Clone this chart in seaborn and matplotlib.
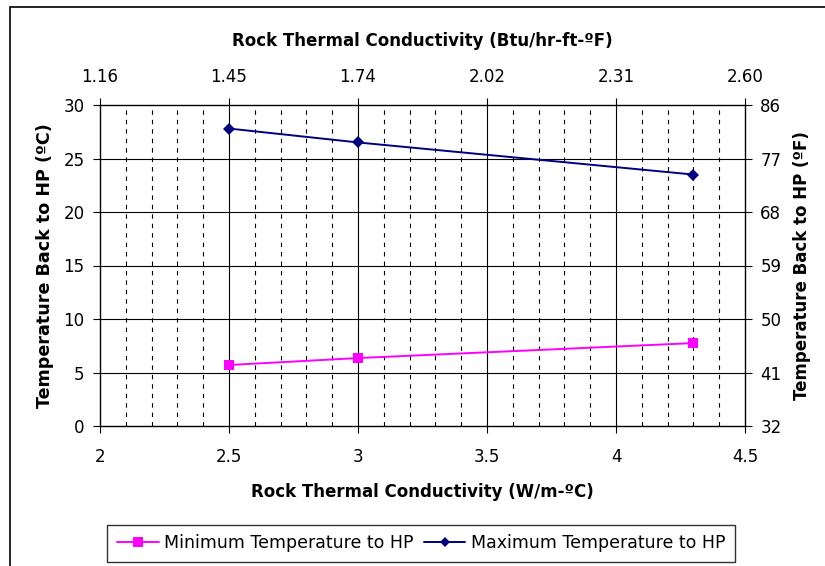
import matplotlib
matplotlib.use("Agg")
import matplotlib.pyplot as plt
from matplotlib.patches import Rectangle
from matplotlib.lines import Line2D
import numpy as np
import pandas as pd
import seaborn as sns

# Rock thermal conductivity (W/m-ºC) and return temperatures (ºC)
conductivity = [2.5, 3.0, 4.3]
min_temp = [5.7, 6.35, 7.75]
max_temp = [27.8, 26.5, 23.5]

# Secondary-unit tick labels
btu_ticks = [2.0, 2.5, 3.0, 3.5, 4.0, 4.5]
btu_labels = ["1.16", "1.45", "1.74", "2.02", "2.31", "2.60"]
wm_labels = ["2", "2.5", "3", "3.5", "4", "4.5"]
degc_ticks = [0, 5, 10, 15, 20, 25, 30]
degf_labels = ["32", "41", "50", "59", "68", "77", "86"]

min_name = "Minimum Temperature to HP"
max_name = "Maximum Temperature to HP"
MAGENTA = "#ff00ff"
NAVY = "#000080"

df = pd.DataFrame({
    "k": conductivity * 2,
    "T": min_temp + max_temp,
    "series": [min_name] * 3 + [max_name] * 3,
})

sns.set_style("white")
plt.rcParams["font.family"] = ["DejaVu Sans"]
plt.rcParams["text.color"] = "black"
plt.rcParams["axes.labelcolor"] = "black"
plt.rcParams["xtick.color"] = "black"
plt.rcParams["ytick.color"] = "black"

TICK_FS = 12
LABEL_FS = 12

fig = plt.figure(figsize=(8.25, 5.66), dpi=100)
ax = fig.add_axes([100 / 825, 1 - 426 / 566, 645 / 825, 321 / 566])

# grid: dashed minor verticals, solid majors
for xm in np.arange(2.1, 4.5, 0.1):
    if abs((xm * 2) - round(xm * 2)) > 1e-6:
        ax.axvline(xm, color="black", lw=0.8, ls=(0, (4, 4.5)), zorder=0.5)
for xm in [2.5, 3.0, 3.5, 4.0]:
    ax.axvline(xm, color="black", lw=0.8, zorder=0.6)
for ym in degc_ticks[1:-1]:
    ax.axhline(ym, color="black", lw=0.8, zorder=0.6)

sns.lineplot(data=df, x="k", y="T", hue="series", style="series",
             palette={min_name: MAGENTA, max_name: NAVY},
             markers={min_name: "s", max_name: "D"},
             dashes=False, markersize=6.5, markeredgewidth=0, lw=1.4,
             ax=ax, legend=False, zorder=3)

ax.set_xlim(2, 4.5)
ax.set_ylim(0, 30)
ax.set_xticks(btu_ticks)
ax.set_xticklabels(wm_labels)
ax.set_yticks(degc_ticks)
ax.tick_params(axis="x", labelsize=TICK_FS, length=5, width=0.8,
               direction="out", bottom=True, pad=11)
ax.tick_params(axis="y", labelsize=TICK_FS, length=5, width=0.8,
               direction="out", left=True, pad=6)
ax.set_xlabel("Rock Thermal Conductivity (W/m-ºC)", fontsize=LABEL_FS,
              fontweight="bold", labelpad=12)
ax.set_ylabel("Temperature Back to HP (ºC)", fontsize=12.6,
              fontweight="bold", labelpad=7)
for s in ax.spines.values():
    s.set_visible(True)
    s.set_color("black")
    s.set_linewidth(1.0)

axt = ax.twiny()
axt.set_xlim(ax.get_xlim())
axt.set_xticks(btu_ticks)
axt.set_xticklabels(btu_labels)
axt.tick_params(axis="x", labelsize=TICK_FS, length=5, width=0.8, top=True,
                direction="out", pad=9)
axt.set_xlabel("Rock Thermal Conductivity (Btu/hr-ft-ºF)", fontsize=LABEL_FS,
               fontweight="bold", labelpad=15.5)

axr = ax.twinx()
axr.set_ylim(ax.get_ylim())
axr.set_yticks(degc_ticks)
axr.set_yticklabels(degf_labels)
axr.tick_params(axis="y", labelsize=TICK_FS, length=5, width=0.8, right=True,
                direction="out", pad=6)
axr.set_ylabel("Temperature Back to HP (ºF)", fontsize=LABEL_FS,
               fontweight="bold", labelpad=8)
for a in (axt, axr):
    for s in a.spines.values():
        s.set_visible(False)

# legend
handles = [
    Line2D([], [], color=MAGENTA, marker="s", markersize=6.5, markeredgewidth=0, lw=1.4),
    Line2D([], [], color=NAVY, marker="D", markersize=5.5, markeredgewidth=0, lw=1.4),
]
leg = fig.legend(handles, [min_name, max_name], loc="center",
                 bbox_to_anchor=(421 / 825, 1 - 543.5 / 566), ncol=2, fontsize=12.5,
                 frameon=True, fancybox=False, edgecolor="black", handlelength=2.4,
                 columnspacing=0.6, handletextpad=0.3, borderpad=0.55,
                 borderaxespad=0)
leg.get_frame().set_linewidth(1.0)

# outer chart border
fig.add_artist(Rectangle((10 / 825, -0.05), 1.0, 1 - 7 / 566 + 0.05,
                         transform=fig.transFigure, fill=False,
                         edgecolor="black", lw=1.2))

fig.savefig("out.png", dpi=100)
